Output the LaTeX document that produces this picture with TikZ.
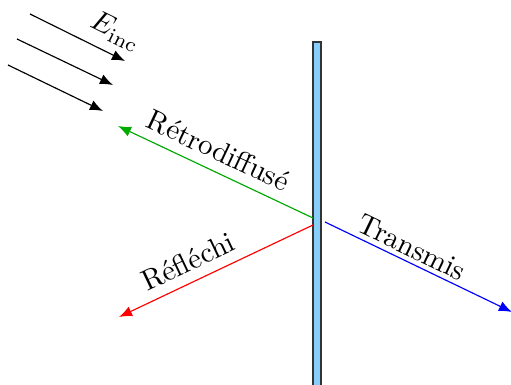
\documentclass[tikz,border=0pt]{standalone}
\usepackage{tikz}
\usetikzlibrary{arrows.meta}
\definecolor{slabblue}{RGB}{135,206,250}
\definecolor{retrogreen}{RGB}{0,170,0}
\tikzset{
  ray/.style={-{Latex[length=4.5pt,width=3.6pt]},line width=0.4pt},
  lbl/.style={sloped,above,font=\normalsize}
}

\begin{document}
\begin{tikzpicture}[x=0.345pt,y=-0.345pt]
  \clip (0,0) rectangle (511,385);
  % lame
  \draw[draw=black!80,fill=slabblue] (313,42) rectangle (321,395);
  % points
  \coordinate (inc1s) at (30,14);  \coordinate (inc1e) at (125,61);
  \coordinate (inc2s) at (17,39);  \coordinate (inc2e) at (113,85);
  \coordinate (inc3s) at (8,65);   \coordinate (inc3e) at (103,111);
  \coordinate (retroS) at (313,218); \coordinate (retroE) at (118,126);
  \coordinate (reflS) at (313,225);  \coordinate (reflE) at (119,317);
  \coordinate (transS) at (325,222); \coordinate (transE) at (512,312);
  % onde incidente
  \draw[ray] (inc1s) -- node[lbl,pos=0.8] {$E_{\mathrm{inc}}$} (inc1e);
  \draw[ray] (inc2s) -- (inc2e);
  \draw[ray] (inc3s) -- (inc3e);
  % ondes diffusees
  \draw[ray,retrogreen] (retroS) -- node[lbl,black,pos=0.53] {Rétrodiffusé} (retroE);
  \draw[ray,red] (reflS) -- node[lbl,black,pos=0.6] {Réfléchi} (reflE);
  \draw[ray,blue] (transS) -- node[lbl,black,pos=0.43,inner sep=1.5pt] {Transmis} (transE);
\end{tikzpicture}
\end{document}
